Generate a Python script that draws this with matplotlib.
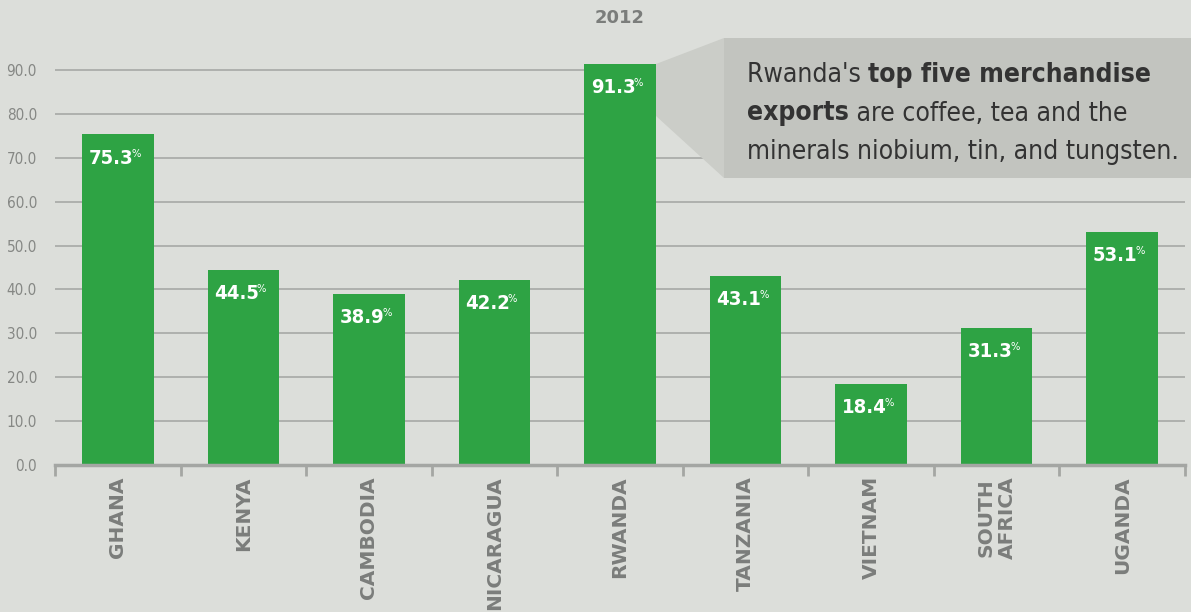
import matplotlib
matplotlib.use("Agg")
import matplotlib.pyplot as plt
from matplotlib.patches import Rectangle, Polygon
from matplotlib import font_manager

# data
countries = ["GHANA", "KENYA", "CAMBODIA", "NICARAGUA", "RWANDA",
             "TANZANIA", "VIETNAM", "SOUTH\nAFRICA", "UGANDA"]
values = [75.3, 44.5, 38.9, 42.2, 91.3, 43.1, 18.4, 31.3, 53.1]
yticks = [0, 10, 20, 30, 40, 50, 60, 70, 80, 90]
title = "2012"

BG = "#dcdeda"
GREEN = "#2ea344"
GRID = "#a7a9a6"
GRAY = "#7b7d7b"

# pick a narrow face if one exists
fonts = font_manager.fontManager.ttflist
names = {f.name for f in fonts}
cond = [f for f in fonts if f.name == "DejaVu Sans" and "condensed" in str(f.stretch)]
if "Liberation Sans Narrow" in names:
    NARROW = dict(family="Liberation Sans Narrow")
    csize, vsize = 21, 16
elif cond:
    NARROW = dict(family="DejaVu Sans", fontstretch="condensed")
    csize, vsize = 19, 14.5
else:
    NARROW = dict(family="Lato")
    csize, vsize = 19, 15

W, H = 1191, 612
fig = plt.figure(figsize=(W / 100, H / 100), dpi=100, facecolor=BG)
ax = fig.add_axes([55 / W, (H - 465) / H, (1185 - 55) / W, (465 - 48) / H])
ax.set_facecolor(BG)
ax.set_ylim(0, 95)
ax.set_xlim(-0.5, len(countries) - 0.5)

# gridlines
for t in yticks[1:]:
    ax.axhline(t, color=GRID, lw=1.2, zorder=1)

x = list(range(len(countries)))
ax.bar(x, values, width=0.57, color=GREEN, zorder=3, clip_on=False)

# axes styling
for s in ["left", "top", "right"]:
    ax.spines[s].set_visible(False)
ax.spines["bottom"].set_color("#a4a6a3")
ax.spines["bottom"].set_linewidth(2.5)
ax.spines["bottom"].set_zorder(5)
ax.set_yticks(yticks)
ax.set_yticklabels([f"{t:.1f}" for t in yticks], fontsize=11, color="#858784", **NARROW)
ax.tick_params(axis="y", length=0, pad=13)
ax.set_xticks(x)
ax.set_xticklabels(countries, rotation=90, fontsize=14.5, fontweight="bold",
                   color=GRAY, linespacing=1.15, va="top", ha="center")
ax.tick_params(axis="x", length=0, pad=8)
ax.set_xticks([i - 0.5 for i in range(len(countries) + 1)], minor=True)
ax.tick_params(axis="x", which="minor", length=8, width=2, color="#a4a6a3", direction="out")

fig.text(620 / W, 1 - 18 / H, title, ha="center", va="center", fontsize=13,
         fontweight="bold", color=GRAY)

# callout box
def fp(px, py):
    return (px / W, 1 - py / H)

wedge = Polygon([fp(656, 64), fp(724, 38), fp(724, 178), fp(656, 116)],
                closed=True, transform=fig.transFigure, facecolor="#cbcdc8",
                edgecolor="none", zorder=0)
fig.patches.append(wedge)
box = Rectangle(fp(724, 178), (W - 724) / W, 140 / H, transform=fig.transFigure,
                facecolor="#c2c4bf", edgecolor="none", zorder=6)
fig.patches.append(box)

fig.canvas.draw()
renderer = fig.canvas.get_renderer()

# value labels, number then a small raised %
for xi, v in zip(x, values):
    num = ax.annotate(f"{v:.1f}", (xi, v), xytext=(-5, -17), textcoords="offset points",
                      ha="center", va="center", color="white", fontsize=vsize,
                      fontweight="bold", zorder=4, **NARROW)
    bb = num.get_window_extent(renderer)
    right = bb.x1 - 2
    top = bb.y1
    fig.text(right / W, top / H, "%", ha="left", va="top", color="white",
             fontsize=8, zorder=4, **NARROW)

lines = [[("Rwanda's ", "normal"), ("top five merchandise", "bold")],
         [("exports", "bold"), (" are coffee, tea and the", "normal")],
         [("minerals niobium, tin, and tungsten.", "normal")]]
for i, parts in enumerate(lines):
    px = 747
    py = 75 + i * 38.5
    for txt, wt in parts:
        t = fig.text(px / W, 1 - py / H, txt, ha="left", va="center", fontsize=csize,
                     fontweight=wt, color="#333333", zorder=7, **NARROW)
        bb = t.get_window_extent(renderer)
        px += bb.width

fig.savefig("out.png", dpi=100, facecolor=BG)
